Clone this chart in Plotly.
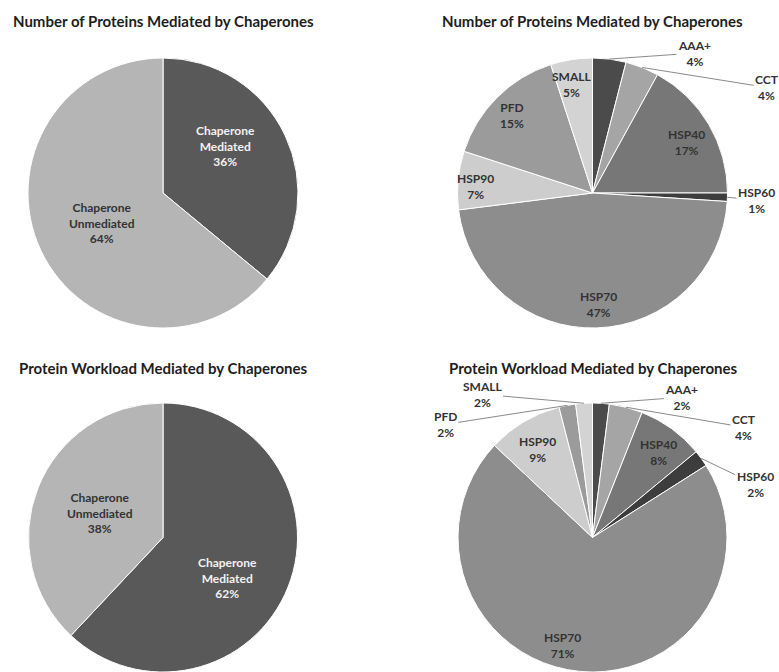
import math
import plotly.graph_objects as go

W, H = 779, 672

# ---- data -----------------------------------------------------------------
binary_labels = ["Chaperone<br>Mediated", "Chaperone<br>Unmediated"]
count_binary = [36, 64]        # share of proteins (%)
workload_binary = [62, 38]     # share of protein workload (%)

families = ["AAA+", "CCT", "HSP40", "HSP60", "HSP70", "HSP90", "PFD", "SMALL"]
count_family = [4, 4, 17, 1, 47, 7, 15, 5]
workload_family = [2, 4, 8, 2, 71, 9, 2, 2]

title_count = "Number of Proteins Mediated by Chaperones"
title_workload = "Protein Workload Mediated by Chaperones"

# ---- style ----------------------------------------------------------------
FONT = "Lato"
binary_colors = ["#595959", "#b5b5b5"]
family_colors = ["#4b4b4b", "#a5a5a5", "#777777", "#3d3d3d",
                 "#8d8d8d", "#cdcdcd", "#9b9b9b", "#d3d3d3"]
LIGHT_TXT = "#f2f2f2"
DARK_TXT = "#333333"
LEADER = "#8a8a8a"

# label placement: ("in", radius fraction, angle nudge deg, colour) or ("out", dx px, dy px)
panels = [
    dict(labels=binary_labels, values=count_binary, colors=binary_colors,
         title=title_count, cx=163, cy=193, r=135, title_y=21,
         place=[("in", 0.58, -12, LIGHT_TXT), ("in", 0.50, -1, DARK_TXT)]),
    dict(labels=families, values=count_family, colors=family_colors,
         title=title_count, cx=592.5, cy=193, r=135, title_y=21,
         place=[("out", 85, -6), ("out", 125, 20), ("in", 0.79, 2.5, DARK_TXT),
                ("out", 29, 3), ("in", 0.83, -1.5, DARK_TXT), ("in", 0.87, -2, DARK_TXT),
                ("in", 0.83, -1, DARK_TXT), ("in", 0.82, -2, DARK_TXT)]),
    dict(labels=binary_labels, values=workload_binary, colors=binary_colors,
         title=title_workload, cx=163, cy=538, r=135, title_y=368,
         place=[("in", 0.57, 10.6, LIGHT_TXT), ("in", 0.50, 0, DARK_TXT)]),
    dict(labels=families, values=workload_family, colors=family_colors,
         title=title_workload, cx=592.5, cy=538, r=135, title_y=368,
         place=[("out", 81, -6), ("out", 118, 20), ("in", 0.80, 1.6, DARK_TXT),
                ("out", 54, 26), ("in", 0.83, 10, DARK_TXT), ("in", 0.77, -1.2, DARK_TXT),
                ("out", -122, 19), ("out", -102, -9)]),
]

fig = go.Figure()
annotations = []

for p in panels:
    x0, x1 = p["cx"] - p["r"], p["cx"] + p["r"]
    top, bot = p["cy"] - p["r"], min(p["cy"] + p["r"], H)
    dom_x = [x0 / W, x1 / W]
    dom_y = [max(0.0, 1 - bot / H), min(1.0, 1 - top / H)]
    # effective geometry that plotly will use for this domain
    rad = min(x1 - x0, bot - top) / 2
    cx, cy = (x0 + x1) / 2, (top + bot) / 2

    fig.add_trace(go.Pie(
        labels=p["labels"], values=p["values"], sort=False,
        direction="clockwise", rotation=0,
        marker=dict(colors=p["colors"], line=dict(color="white", width=1)),
        textinfo="none", hoverinfo="skip", domain=dict(x=dom_x, y=dom_y),
    ))

    annotations.append(dict(
        text=p["title"], x=cx / W, y=1 - p["title_y"] / H, xref="paper", yref="paper",
        showarrow=False, xanchor="center", yanchor="middle",
        font=dict(family=FONT, size=15, color="#1e1e1e", weight=700),
    ))

    total = sum(p["values"])
    cum = 0.0
    for lab, val, spec in zip(p["labels"], p["values"], p["place"]):
        mid = (cum + val / 2) / total * 360.0
        cum += val
        txt = f"{lab}<br>{val}%"
        if spec[0] == "in":
            _, frac, nudge, col = spec
            th = math.radians(mid + nudge)
            px = cx + frac * rad * math.sin(th)
            py = cy - frac * rad * math.cos(th)
            annotations.append(dict(
                text=txt, x=px / W, y=1 - py / H, xref="paper", yref="paper",
                showarrow=False, xanchor="center", yanchor="middle", align="center",
                font=dict(family=FONT, size=12, color=col, weight=700),
            ))
        else:
            _, dx, dy = spec
            th = math.radians(mid)
            px = cx + rad * math.sin(th)
            py = cy - rad * math.cos(th)
            annotations.append(dict(
                text=txt, x=px / W, y=1 - py / H, xref="paper", yref="paper",
                showarrow=True, ax=dx, ay=dy, arrowhead=0, arrowwidth=1,
                arrowcolor=LEADER, standoff=0, align="center",
                font=dict(family=FONT, size=12, color=DARK_TXT, weight=700),
            ))

fig.update_layout(
    width=W, height=H, margin=dict(l=0, r=0, t=0, b=0),
    paper_bgcolor="white", plot_bgcolor="white", showlegend=False,
    annotations=annotations,
)

fig.write_html("out.html")
